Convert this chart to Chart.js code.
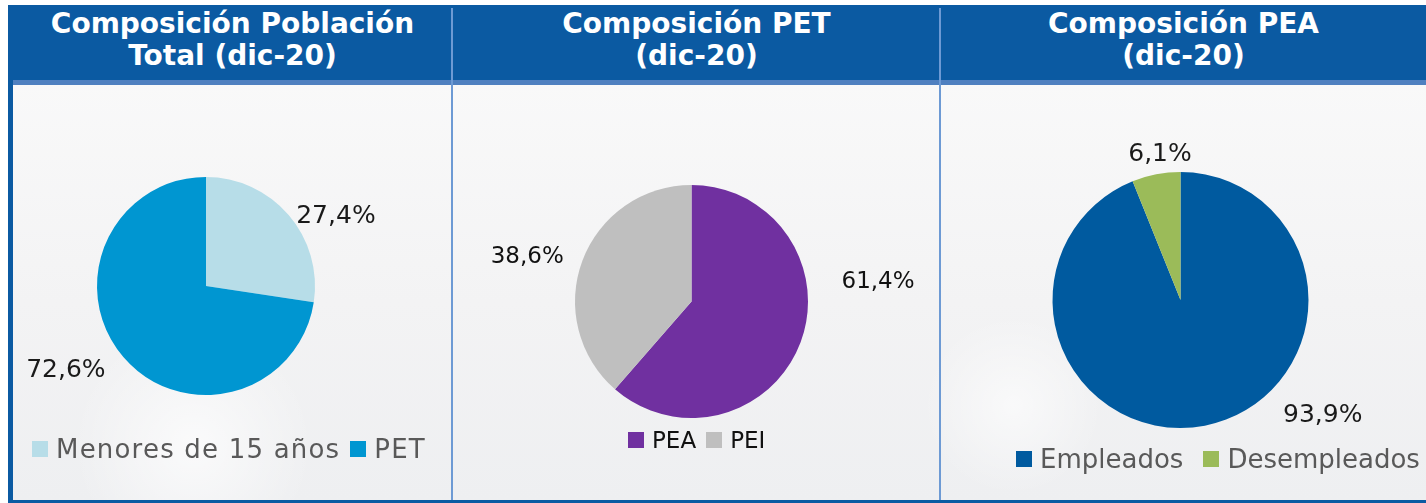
<!DOCTYPE html>
<html>
<head>
<meta charset="utf-8">
<script src="https://cdn.jsdelivr.net/npm/chart.js@4.4.0/dist/chart.umd.min.js"></script>
<style>
  body { margin: 0; width: 1426px; height: 503px; background: #fff; position: relative; overflow: hidden; font-family: "DejaVu Sans", sans-serif; }
  .frame { position: absolute; left: 8px; top: 5px; width: 1418px; height: 495px; border-left: 5px solid #0b5aa2; border-bottom: 3px solid #0b5aa2; box-sizing: content-box;
    background: radial-gradient(circle at 180px 440px, rgba(255,255,255,0.7) 0, rgba(255,255,255,0) 120px),
                radial-gradient(circle at 1000px 400px, rgba(255,255,255,0.6) 0, rgba(255,255,255,0) 90px),
                linear-gradient(180deg, #fbfbfb 0%, #f3f3f4 60%, #eeeff1 100%); }
  .header { position: absolute; left: 8px; top: 5px; width: 1423px; height: 75px; background: #0b5aa2; }
  .stripe { position: absolute; left: 13px; top: 80px; width: 1413px; height: 5px; background: #4f80c0; }
  .sep { position: absolute; top: 8px; width: 2px; height: 492px; background: #6d9ad4; }
  .title { position: absolute; top: 8px; color: #fff; font-weight: bold; font-size: 28px; line-height: 32px; text-align: center; }
  canvas { position: absolute; }
  .legend { position: absolute; display: flex; align-items: center; white-space: nowrap; }
  .legend .box { display: inline-block; width: 16px; height: 16px; margin-right: 8px; }
  .legend .item { display: flex; align-items: center; }
</style>
</head>
<body>
<div class="frame"></div>
<div class="header"></div>
<div class="stripe"></div>
<div class="sep" style="left:451px"></div>
<div class="sep" style="left:939px"></div>
<div class="title" style="left:13px;width:439px">Composición Población<br>Total (dic-20)</div>
<div class="title" style="left:453px;width:487px">Composición PET<br>(dic-20)</div>
<div class="title" style="left:941px;width:485px">Composición PEA<br>(dic-20)</div>

<canvas id="c1" width="439" height="415" style="left:13px;top:85px"></canvas>
<canvas id="c2" width="486" height="415" style="left:454px;top:85px"></canvas>
<canvas id="c3" width="484" height="415" style="left:942px;top:85px"></canvas>

<div class="legend" id="l1" style="left:32px;top:434px;font-size:26px;color:#595959;letter-spacing:1.2px"></div>
<div class="legend" id="l2" style="left:628px;top:427px;font-size:23px;color:#111"></div>
<div class="legend" id="l3" style="left:1016px;top:444px;font-size:26px;color:#595959"></div>

<script>
// Composición Población Total (dic-20)
const totalLabels = ['Menores de 15 años', 'PET'];
const totalValues = [27.4, 72.6];
const totalColors = ['#b7dde8', '#0096d1'];

// Composición PET (dic-20)
const petLabels = ['PEA', 'PEI'];
const petValues = [61.4, 38.6];
const petColors = ['#7030a0', '#bfbfbf'];

// Composición PEA (dic-20)
const peaLabels = ['Empleados', 'Desempleados'];
const peaValues = [93.9, 6.1];
const peaColors = ['#005a9f', '#9bbb59'];

const fmt = v => v.toFixed(1).replace('.', ',') + '%';

// value labels placed outside the slices: [angle from top (deg), distance as share of radius]
const outsideLabels = {
  id: 'outsideLabels',
  afterDatasetsDraw(chart, args, opts) {
    const ctx = chart.ctx;
    const meta = chart.getDatasetMeta(0);
    const values = chart.data.datasets[0].data;
    ctx.save();
    ctx.font = opts.font;
    ctx.fillStyle = opts.color;
    ctx.textAlign = 'center';
    ctx.textBaseline = 'middle';
    meta.data.forEach((arc, i) => {
      const p = arc.getProps(['x', 'y', 'outerRadius'], true);
      const [deg, k] = opts.place[i];
      const a = deg * Math.PI / 180;
      ctx.fillText(fmt(values[i]), p.x + Math.sin(a) * p.outerRadius * k, p.y - Math.cos(a) * p.outerRadius * k);
    });
    ctx.restore();
  }
};

function makePie(id, labels, values, colors, padding, labelOpts) {
  return new Chart(document.getElementById(id), {
    type: 'pie',
    data: {
      labels: labels,
      datasets: [{ data: values, backgroundColor: colors, borderWidth: 0 }]
    },
    options: {
      responsive: false,
      animation: false,
      devicePixelRatio: 1,
      layout: { padding: padding },
      plugins: {
        legend: { display: false },
        tooltip: { enabled: false },
        outsideLabels: labelOpts
      }
    },
    plugins: [outsideLabels]
  });
}

function makeLegend(id, labels, colors, gap) {
  const el = document.getElementById(id);
  labels.forEach((l, i) => {
    const item = document.createElement('span');
    item.className = 'item';
    if (i > 0) item.style.marginLeft = gap + 'px';
    item.innerHTML = '<span class="box" style="background:' + colors[i] + '"></span>' + l;
    el.appendChild(item);
  });
}

makePie('c1', totalLabels, totalValues, totalColors,
  { top: 92, bottom: 105, left: 0, right: 53 },
  { font: '25px "DejaVu Sans"', color: '#1a1a1a', place: [[62, 1.35], [239, 1.5]] });
makePie('c2', petLabels, petValues, petColors,
  { top: 100, bottom: 82, left: 0, right: 11 },
  { font: '23px "DejaVu Sans"', color: '#111', place: [[84, 1.61], [285, 1.46]] });
makePie('c3', peaLabels, peaValues, peaColors,
  { top: 87, bottom: 72, left: 0, right: 7 },
  { font: '25px "DejaVu Sans"', color: '#1a1a1a', place: [[129, 1.43], [352, 1.15]] });

makeLegend('l1', totalLabels, totalColors, 10);
makeLegend('l2', petLabels, petColors, 10);
makeLegend('l3', peaLabels, peaColors, 20);
</script>
</body>
</html>
